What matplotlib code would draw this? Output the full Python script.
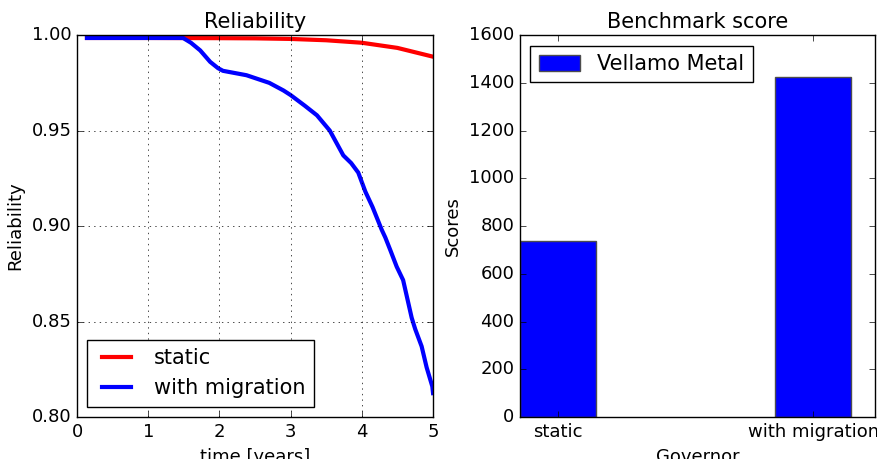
import matplotlib
matplotlib.use("Agg")
import matplotlib.pyplot as plt
import numpy as np

# reliability curves
t_static = [0.14, 1.0, 2.0, 2.5, 3.0, 3.5, 4.0, 4.5, 5.0]
r_static = [0.9985, 0.9985, 0.9984, 0.9983, 0.998, 0.9973, 0.996, 0.9933, 0.9887]

t_migr = [0.14, 1.0, 1.49, 1.6, 1.73, 1.87, 1.98, 2.05, 2.38, 2.7, 2.9, 3.0, 3.2,
          3.37, 3.55, 3.74, 3.85, 3.95, 4.05, 4.15, 4.28, 4.33, 4.4, 4.49, 4.58,
          4.7, 4.75, 4.84, 4.91, 4.99, 5.0]
r_migr = [0.9985, 0.9985, 0.9985, 0.996, 0.992, 0.986, 0.9827, 0.9813, 0.979,
          0.975, 0.971, 0.9686, 0.963, 0.958, 0.950, 0.937, 0.933, 0.928, 0.918,
          0.910, 0.898, 0.894, 0.8874, 0.8787, 0.8717, 0.852, 0.846, 0.837, 0.826,
          0.816, 0.8125]

# benchmark
governors = ["static", "with migration"]
scores = [738, 1425]

plt.style.use("classic")
plt.rcParams["font.family"] = "DejaVu Sans"
plt.rcParams["xtick.labelsize"] = 13
plt.rcParams["ytick.labelsize"] = 13

fig = plt.figure(figsize=(8.78, 4.59), dpi=100, facecolor="white")

ax1 = fig.add_axes([0.0877, 0.0915, 0.4055, 0.832])
ax1.plot(t_static, r_static, color="red", lw=3, label="static")
ax1.plot(t_migr, r_migr, color="blue", lw=3, label="with migration")
ax1.set_xlim(0, 5)
ax1.set_ylim(0.80, 1.00)
ax1.set_yticks([0.80, 0.85, 0.90, 0.95, 1.00])
ax1.grid(True)
ax1.set_title("Reliability", fontsize=15)
ax1.set_xlabel("time [years]", fontsize=13)
ax1.set_ylabel("Reliability", fontsize=13)
ax1.legend(loc="lower left", fontsize=15)

ax2 = fig.add_axes([0.5923, 0.0915, 0.4043, 0.832])
x = np.arange(len(governors))
ax2.bar(x, scores, width=0.3, color="blue", edgecolor="0.3", label="Vellamo Metal")
ax2.set_xticks(x)
ax2.set_xticklabels(governors)
ax2.set_xlim(-0.15, 1.243)
ax2.set_ylim(0, 1600)
ax2.set_title("Benchmark score", fontsize=15)
ax2.set_xlabel("Governor", fontsize=13)
ax2.set_ylabel("Scores", fontsize=13)
ax2.legend(loc="upper left", fontsize=15, handleheight=0.8)

fig.savefig("out.png", dpi=100, facecolor="white")
